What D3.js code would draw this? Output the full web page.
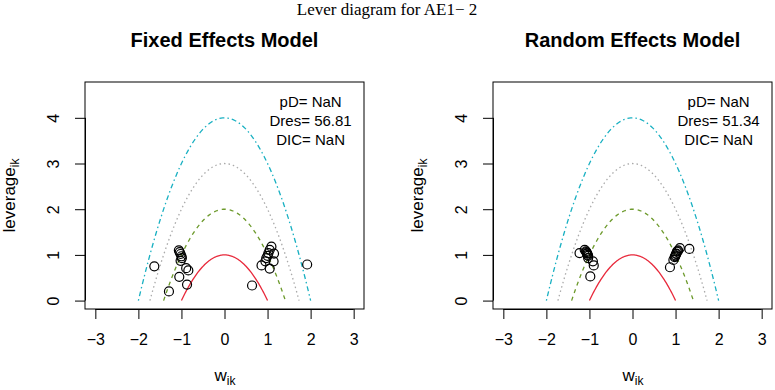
<!DOCTYPE html>
<html>
<head>
<meta charset="utf-8">
<script src="https://cdn.jsdelivr.net/npm/d3@7"></script>
<style>
  body { margin: 0; background: #fff; }
  text { font-family: "Liberation Sans", Arial, sans-serif; }
</style>
</head>
<body>
<div id="chart"></div>
<script>
// leverage points (w_ik, leverage_ik)
const fixedW   = [-1.63, -1.29, -1.06, -1.04, -1.02, -1.00, -0.99, -1.02, -0.89, -0.84, -1.05, -0.87,
                   1.09, 1.05, 1.02, 1.15, 1.00, 0.97, 0.95, 1.14, 0.86, 1.05, 0.64, 1.92];
const fixedLev = [0.75, 0.20, 1.10, 1.06, 1.02, 0.97, 0.93, 0.87, 0.71, 0.66, 0.52, 0.35,
                  1.18, 1.11, 1.04, 1.03, 0.98, 0.93, 0.86, 0.86, 0.77, 0.70, 0.33, 0.79];
const randomW   = [-1.23, -1.11, -1.08, -1.07, -1.06, -1.05, -1.04, -1.03, -1.03, -0.92, -0.90, -0.98,
                    1.10, 1.32, 1.06, 1.05, 1.03, 1.02, 1.01, 1.00, 0.99, 0.98, 0.95, 0.87];
const randomLev = [1.04, 1.11, 1.08, 1.06, 1.04, 1.03, 1.00, 0.98, 0.93, 0.86, 0.77, 0.53,
                   1.15, 1.13, 1.10, 1.08, 1.07, 1.03, 1.02, 0.99, 0.97, 0.95, 0.89, 0.73];

const panelTitles = ["Fixed Effects Model", "Random Effects Model"];
const dresValues = ["56.81", "51.34"];
const xTicks = [-3, -2, -1, 0, 1, 2, 3];
const yTicks = [0, 1, 2, 3, 4];
const contourLevels = [1, 2, 3, 4];   // leverage = c - w^2
const contourColors = ["#e8293b", "#6d9a2c", "#aaaaaa", "#18b0c2"];
const contourDash = [null, "4,4", "1.5,3", "1.5,3,5,3"];

const width = 775, height = 390;
const svg = d3.select("#chart").append("svg")
    .attr("width", width).attr("height", height);

svg.append("text")
    .attr("x", 387).attr("y", 14.5)
    .attr("text-anchor", "middle")
    .style("font-family", "'Liberation Serif', 'Times New Roman', serif")
    .style("font-size", "17px")
    .text("Lever diagram for AE1\u2212 2");

const panels = [
  { left: 85,  w: fixedW,  lev: fixedLev,  title: panelTitles[0], dres: dresValues[0] },
  { left: 493, w: randomW, lev: randomLev, title: panelTitles[1], dres: dresValues[1] }
];
const boxW = 279, boxTop = 82, boxBottom = 309;

panels.forEach(p => {
  const x = d3.scaleLinear([-3.24, 3.24], [p.left, p.left + boxW]);
  const y = d3.scaleLinear([-0.184, 4.784], [boxBottom, boxTop]);
  const g = svg.append("g");

  // panel title
  g.append("text")
      .attr("x", p.left + boxW / 2).attr("y", 47)
      .attr("text-anchor", "middle")
      .style("font-size", "20px").style("font-weight", "bold")
      .text(p.title);

  // reference parabolas
  contourLevels.forEach((c, i) => {
    const r = Math.sqrt(c);
    const pts = d3.range(0, 101).map(k => -r + 2 * r * k / 100);
    g.append("path")
        .datum(pts)
        .attr("fill", "none")
        .attr("stroke", contourColors[i])
        .attr("stroke-width", 1.3)
        .attr("stroke-dasharray", contourDash[i])
        .attr("d", d3.line().x(d => x(d)).y(d => y(Math.max(0, c - d * d))));
  });

  // points
  g.append("g").selectAll("circle")
    .data(p.w.map((w, i) => [w, p.lev[i]]))
    .join("circle")
      .attr("cx", d => x(d[0]))
      .attr("cy", d => y(d[1]))
      .attr("r", 4.5)
      .attr("fill", "none")
      .attr("stroke", "#000")
      .attr("stroke-width", 1.2);

  // box
  g.append("rect")
      .attr("x", p.left).attr("y", boxTop)
      .attr("width", boxW).attr("height", boxBottom - boxTop)
      .attr("fill", "none").attr("stroke", "#000").attr("stroke-width", 1);

  // x axis
  const xa = g.append("g").attr("transform", `translate(0,${boxBottom})`)
      .call(d3.axisBottom(x).tickValues(xTicks).tickSize(10).tickPadding(15)
        .tickFormat(d => d < 0 ? "\u2212" + Math.abs(d) : d));
  xa.select(".domain").attr("d", `M${x(-3)},0.5H${x(3)}`);
  xa.selectAll("text").style("font-size", "16px").attr("font-family", null);

  // y axis
  const ya = g.append("g").attr("transform", `translate(${p.left},0)`)
      .call(d3.axisLeft(y).tickValues(yTicks).tickSize(10).tickFormat(d => d));
  ya.select(".domain").attr("d", `M0.5,${y(0)}V${y(4)}`);
  ya.selectAll("text")
      .style("font-size", "16px").attr("font-family", null)
      .attr("x", null).attr("dy", null)
      .attr("text-anchor", "middle")
      .attr("transform", "translate(-26,0) rotate(-90)")
      .attr("y", 0);

  // axis labels
  const xl = g.append("text")
      .attr("x", p.left + 140).attr("y", 381)
      .attr("text-anchor", "middle")
      .style("font-size", "17px");
  xl.append("tspan").text("w");
  xl.append("tspan").attr("dy", 4).style("font-size", "12px").text("ik");

  const yl = g.append("text")
      .attr("transform", `translate(${p.left - 70},${(boxTop + boxBottom) / 2}) rotate(-90)`)
      .attr("text-anchor", "middle")
      .style("font-size", "17px");
  yl.append("tspan").text("leverage");
  yl.append("tspan").attr("dy", 4).style("font-size", "12px").text("ik");

  // model fit stats
  const stats = ["pD= NaN", "Dres= " + p.dres, "DIC= NaN"];
  g.append("g").selectAll("text")
    .data(stats)
    .join("text")
      .attr("x", x(2)).attr("y", (d, i) => 106.5 + i * 19.2)
      .attr("text-anchor", "middle")
      .style("font-size", "15px")
      .text(d => d);
});
</script>
</body>
</html>
